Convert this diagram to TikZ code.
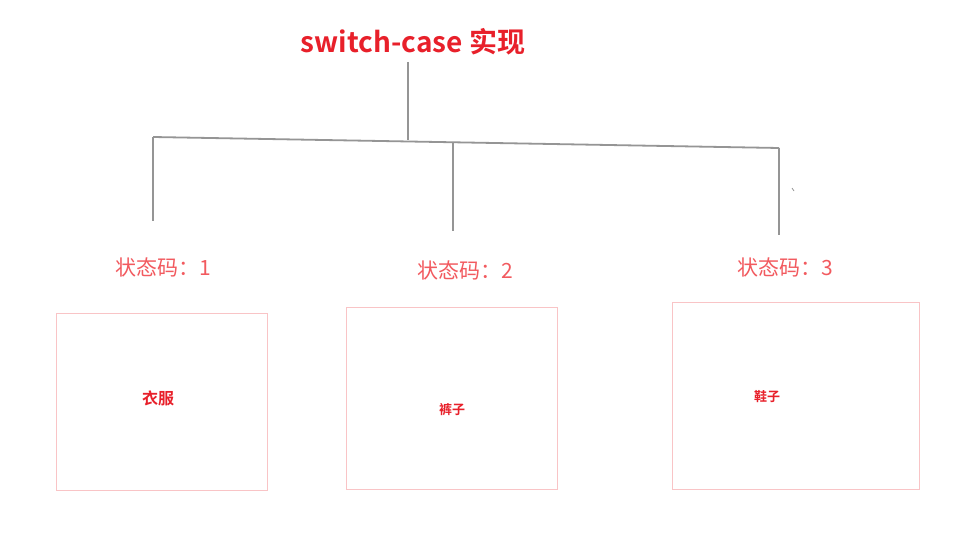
\documentclass[tikz,border=0pt]{standalone}
\usepackage{fontspec}
\setmainfont{Noto Sans CJK SC}
\newfontfamily\cjkbold{Noto Sans CJK SC Bold}
\definecolor{titlered}{HTML}{E8202A}
\definecolor{labelred}{HTML}{F25A5F}
\definecolor{boxpink}{HTML}{F9C4C6}
\definecolor{linegray}{HTML}{959595}
\tikzset{
  tree/.style={draw=linegray, line width=1.8pt},
  thintree/.style={draw=linegray, line width=1.1pt},
  label/.style={text=labelred, font=\fontsize{21}{21}\selectfont, inner sep=0pt},
  itembox/.style={draw=boxpink, line width=1pt, fill=white},
  itemtext/.style={text=titlered, font=\cjkbold\fontsize{13}{13}\selectfont, inner sep=0pt},
}
\begin{document}
\begin{tikzpicture}[x=1pt,y=-1pt]
\useasboundingbox[fill=white] (0,0) rectangle (966,548);
% title
\node[text=titlered, font=\cjkbold\fontsize{28}{28}\selectfont, inner sep=0pt] (title) at (413,42) {switch-case 实现};
% tree lines
\coordinate (top) at (408,62);
\coordinate (hub) at (408,140);
\coordinate (hl) at (153,137);
\coordinate (hm) at (453,143);
\coordinate (hr) at (779,148);
\coordinate (l1) at (153,221);
\coordinate (l2) at (453,231);
\coordinate (l3) at (779,235);
\draw[tree] (top) -- (hub);
\draw[tree] (hl) -- (hr);
\draw[tree] (hl) -- (l1);
\draw[thintree] (hm) -- (l2);
\draw[tree] (hr) -- (l3);
\draw[linegray, line width=0.8pt] (792,188) -- (794,191);
% labels
\node[label] (s1) at (163,267) {状态码：1};
\node[label] (s2) at (465,270) {状态码：2};
\node[label] (s3) at (785,267) {状态码：3};
% boxes
\draw[itembox] (56,313) rectangle (267,490);
\draw[itembox] (346,307) rectangle (557,489);
\draw[itembox] (672,302) rectangle (919,489);
\node[itemtext, font=\cjkbold\fontsize{16}{16}\selectfont] (b1) at (158,398) {衣服};
\node[itemtext] (b2) at (452,410) {裤子};
\node[itemtext] (b3) at (767,397) {鞋子};
\end{tikzpicture}
\end{document}
